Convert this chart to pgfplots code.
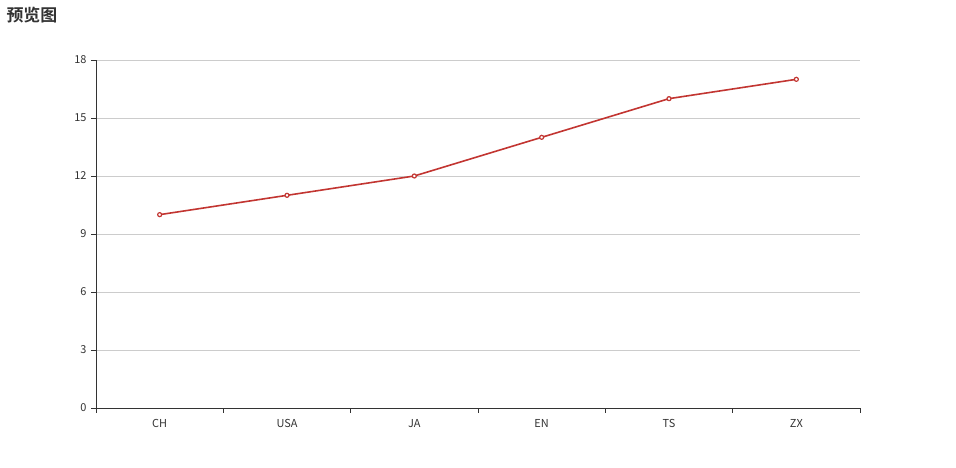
\documentclass[border=0pt]{standalone}
\usepackage{pgfplots}
\pgfplotsset{compat=1.18}
\usepackage{fontspec}
\setmainfont{Noto Sans CJK SC}
\newfontfamily\titlefont{Noto Sans CJK SC Bold}
\definecolor{ln}{HTML}{C23531}
\definecolor{ax}{HTML}{333333}
\definecolor{gr}{HTML}{CCCCCC}
\begin{document}
\begin{tikzpicture}[x=1bp,y=1bp]
\path[use as bounding box] (0,0) rectangle (956,468);
\node[anchor=west,font=\titlefont\fontsize{17}{20}\selectfont,text=ax] at (3,453) {预览图};
\begin{axis}[at={(96bp,60bp)},anchor=south west,scale only axis,width=764bp,height=348bp,
  xmin=-0.5,xmax=5.5,ymin=0,ymax=18,
  xtick={0,...,5},xticklabels={CH,USA,JA,EN,TS,ZX},
  minor xtick={-0.5,0.5,...,5.5},
  ytick={0,3,...,18},
  axis x line*=bottom, axis y line*=left,
  axis line style={ax,line width=0.8bp,-},
  major x tick style={draw=none},
  minor x tick style={ax,line width=0.8bp},
  y tick style={ax,line width=0.8bp},
  tick align=outside, major tick length=5bp, minor tick length=5bp,
  ymajorgrids, grid style={gr,line width=0.8bp},
  ticklabel style={font=\fontsize{11}{13}\selectfont,text=ax},
  /pgf/number format/assume math mode=true,
  xticklabel style={yshift=-3bp},
  yticklabel style={xshift=-1bp},
]
\addplot[ln,line width=1.6bp,mark=*,mark size=2bp,mark options={fill=white,draw=ln,line width=1.2bp}]
 coordinates {(0,10)(1,11)(2,12)(3,14)(4,16)(5,17)};
\end{axis}
\end{tikzpicture}
\end{document}
